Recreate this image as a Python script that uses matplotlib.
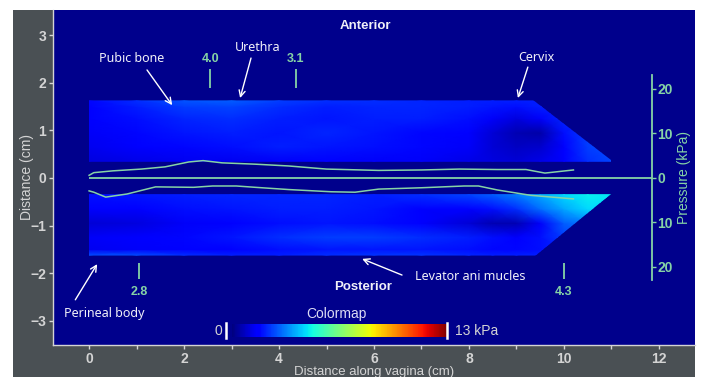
"""
plot.py
=======
Vaginal tactile imaging map: anterior / posterior pressure maps along the
vagina, pressure profiles along the midline and the colormap legend.
"""

import numpy as np
import matplotlib
matplotlib.use("Agg")
import matplotlib.pyplot as plt
from matplotlib.patches import Polygon, Rectangle
from matplotlib.colors import Normalize
from matplotlib.cm import ScalarMappable
from matplotlib.ticker import FuncFormatter, MultipleLocator

# ====== Data ======
# pressure map nodes (kPa); columns = distance along vagina (cm)
GRID_X = [0, 1, 2, 3, 4, 5, 6, 7, 8, 8.5, 9, 9.5, 10, 10.5, 11]

# anterior wall, rows from y=0.35 cm up to the wall edge
ANT_ROWS_Y = [0.35, 0.65, 0.95, 1.25, 1.50, 1.62]
ANT_MAP = [
    [1.1, 1.2, 1.3, 1.3, 1.4, 1.5, 1.4, 1.4, 1.2, 1.1, 1.0, 1.2, 1.6, 2.2, 2.5],
    [1.3, 1.5, 1.7, 1.8, 2.0, 1.9, 1.8, 1.7, 1.4, 1.0, 0.8, 0.9, 1.6, 2.4, 2.6],
    [1.4, 1.7, 1.9, 2.0, 1.9, 2.1, 1.9, 1.7, 1.5, 1.0, 0.6, 0.5, 1.8, 2.4, 2.4],
    [1.5, 1.8, 2.1, 2.2, 2.0, 1.9, 2.0, 2.0, 1.8, 1.4, 1.1, 1.4, 2.1, 2.2, 2.2],
    [1.6, 2.0, 2.4, 2.5, 2.2, 2.0, 2.1, 2.1, 2.0, 1.9, 1.8, 2.0, 2.0, 2.0, 2.0],
    [1.7, 2.2, 2.7, 2.8, 2.4, 2.2, 2.2, 2.1, 2.0, 2.0, 2.0, 2.0, 2.0, 2.0, 2.0],
]

# posterior wall, rows from the wall edge up to y=-0.35 cm
POST_ROWS_Y = [-1.62, -1.50, -1.25, -0.95, -0.65, -0.35]
POST_MAP = [
    [2.6, 2.6, 2.2, 2.0, 2.0, 2.2, 2.3, 2.3, 2.1, 2.0, 2.0, 2.0, 2.0, 2.0, 2.0],
    [1.3, 1.4, 1.5, 1.6, 1.8, 1.9, 1.9, 1.9, 1.8, 1.7, 1.7, 1.8, 2.0, 2.0, 2.0],
    [1.4, 1.5, 1.7, 1.9, 2.2, 2.4, 2.4, 2.2, 2.0, 1.8, 1.6, 1.8, 2.4, 2.8, 3.0],
    [1.0, 1.1, 1.4, 1.6, 1.8, 1.9, 1.8, 1.5, 1.0, 0.6, 0.6, 1.4, 2.8, 3.2, 3.4],
    [1.5, 1.6, 1.8, 1.9, 2.0, 2.0, 1.9, 1.5, 1.6, 1.8, 2.2, 3.0, 3.8, 4.4, 4.5],
    [1.8, 1.9, 2.0, 2.1, 2.1, 2.1, 2.0, 2.2, 2.5, 2.8, 3.2, 3.8, 4.4, 4.7, 4.6],
]

# outlines of the two maps (cm)
ANT_OUTLINE = [(0, 0.33), (0, 1.64), (9.35, 1.64), (11.0, 0.37), (11.0, 0.33)]
POST_OUTLINE = [(0, -0.34), (11.0, -0.34), (9.4, -1.65), (0, -1.65)]

# midline pressure profiles (kPa)
ANT_X = [0.0, 0.1, 0.5, 1.1, 1.6, 2.1, 2.4, 2.8, 3.5, 4.2, 5.0, 6.1, 7.0, 7.8, 8.6, 9.2, 9.6, 10.2]
ANT_P = [0.6, 1.2, 1.6, 2.0, 2.5, 3.6, 3.9, 3.4, 3.1, 2.7, 2.0, 1.7, 1.8, 2.0, 1.9, 1.9, 1.1, 1.8]
POST_X = [0.0, 0.1, 0.35, 0.8, 1.4, 2.2, 2.6, 3.1, 3.5, 4.2, 5.1, 5.6, 6.1, 7.0, 7.9, 8.2, 8.6, 9.3, 10.2]
POST_P = [2.9, 3.2, 4.3, 3.6, 2.0, 2.1, 1.8, 1.8, 2.1, 2.6, 3.1, 3.2, 2.5, 2.2, 1.8, 1.8, 2.7, 3.9, 4.7]

# peak pressure markers (kPa)
ANT_PEAK_X = [2.55, 4.35]
ANT_PEAK_LABELS = ["4.0", "3.1"]
POST_PEAK_X = [1.05, 10.0]
POST_PEAK_LABELS = ["2.8", "4.3"]

PRESSURE_TICKS = [-20, -10, 0, 10, 20]
CMAP_MAX = 13

# ====== Style ======
CM_PER_KPA = 0.0935          # vertical scale of the pressure profiles
RIGHT_AXIS_X = 11.85
NAVY = "#00008c"
GREY = "#4a5054"
GREEN = "#86d3a6"
LIGHT = "#d4d4d4"
TEXT = "#f0f0f8"
W, H = 703, 377

plt.rcParams["font.family"] = ["Liberation Sans", "DejaVu Sans"]


def draw_map(ax, rows_y, values, outline):
    X, Y = np.meshgrid(GRID_X, rows_y)
    mesh = ax.pcolormesh(X, Y, np.array(values), shading="gouraud",
                         cmap="jet", vmin=0, vmax=CMAP_MAX, zorder=1)
    clip = Polygon(outline, closed=True, transform=ax.transData)
    mesh.set_clip_path(clip)


def arrow_label(ax, text, text_xy, start, end):
    ax.text(*text_xy, text, ha="center", va="center", color=TEXT,
            fontsize=9, family="Noto Sans", zorder=5)
    ax.annotate("", xy=end, xytext=start, zorder=5,
                arrowprops=dict(arrowstyle="->", color="white", lw=1.0,
                                mutation_scale=11, shrinkA=0, shrinkB=0))


fig = plt.figure(figsize=(W / 100, H / 100), dpi=100)
fig.patch.set_facecolor("white")
fig.patches.append(Rectangle((13 / W, 0), (695 - 13) / W, (H - 10) / H,
                             transform=fig.transFigure, facecolor=GREY,
                             edgecolor="none", zorder=-5))

ax = fig.add_axes([53 / W, 32 / H, 642 / W, 335 / H])
ax.set_facecolor(NAVY)
ax.set_xlim(-0.76, 12.76)
ax.set_ylim(-3.51, 3.53)

draw_map(ax, ANT_ROWS_Y, ANT_MAP, ANT_OUTLINE)
draw_map(ax, POST_ROWS_Y, POST_MAP, POST_OUTLINE)

# pressure profiles
ax.hlines(0, GRID_X[0], RIGHT_AXIS_X, color=GREEN, lw=1.3, zorder=3)
ax.plot(ANT_X, np.array(ANT_P) * CM_PER_KPA, color=GREEN, lw=1.1, zorder=3)
ax.plot(POST_X, -np.array(POST_P) * CM_PER_KPA, color=GREEN, lw=1.1, zorder=3)

# peak markers
ax.vlines(ANT_PEAK_X, 1.89, 2.28, color=GREEN, lw=1.3, zorder=3)
for x, lab in zip(ANT_PEAK_X, ANT_PEAK_LABELS):
    ax.text(x, 2.5, lab, ha="center", va="center", color=GREEN,
            fontsize=9, fontweight="bold")
ax.vlines(POST_PEAK_X, -2.12, -1.79, color=GREEN, lw=1.3, zorder=3)
for x, lab in zip(POST_PEAK_X, POST_PEAK_LABELS):
    ax.text(x, -2.4, lab, ha="center", va="center", color=GREEN,
            fontsize=9, fontweight="bold")

# anatomy labels
ax.text(5.81, 3.19, "Anterior", ha="center", va="center", color=TEXT,
        fontsize=9.5, fontweight="bold")
ax.text(5.77, -2.29, "Posterior", ha="center", va="center", color=TEXT,
        fontsize=9.5, fontweight="bold")
arrow_label(ax, "Pubic bone", (0.9, 2.52), (1.22, 2.27), (1.75, 1.53))
arrow_label(ax, "Urethra", (3.56, 2.75), (3.41, 2.52), (3.18, 1.68))
arrow_label(ax, "Cervix", (9.41, 2.54), (9.24, 2.33), (9.03, 1.68))
arrow_label(ax, "Levator ani mucles", (8.02, -2.08), (6.59, -2.04), (5.75, -1.70))
arrow_label(ax, "Perineal body", (0.32, -2.84), (-0.29, -2.56), (0.17, -1.81))

# axes styling
for side in ("top", "right"):
    ax.spines[side].set_visible(False)
for side in ("left", "bottom"):
    ax.spines[side].set_color(LIGHT)
    ax.spines[side].set_linewidth(1.0)
ax.xaxis.set_major_locator(MultipleLocator(2))
ax.xaxis.set_minor_locator(MultipleLocator(1))
ax.set_yticks([-3, -2, -1, 0, 1, 2, 3])
ax.tick_params(which="both", colors=LIGHT, labelsize=10, length=3, width=1, pad=2)
for lab in ax.get_xticklabels() + ax.get_yticklabels():
    lab.set_fontweight("bold")
ax.set_xlabel("Distance along vagina (cm)", color=LIGHT, fontsize=9.5, labelpad=0)
ax.set_ylabel("Distance (cm)", color=LIGHT, fontsize=10, labelpad=-3)

# pressure axis inside the plot
sec = ax.secondary_yaxis((RIGHT_AXIS_X - ax.get_xlim()[0]) / np.ptp(ax.get_xlim()),
                         functions=(lambda y: y / CM_PER_KPA, lambda p: p * CM_PER_KPA))
sec.set_yticks(PRESSURE_TICKS)
sec.yaxis.set_major_formatter(FuncFormatter(lambda v, _: f"{abs(v):.0f}"))
sec.spines["right"].set_color(GREEN)
sec.spines["right"].set_linewidth(1.3)
sec.spines["right"].set_bounds(-22.9, 23.1)
sec.tick_params(colors=GREEN, labelsize=10, length=3, width=1, pad=1)
for lab in sec.get_yticklabels():
    lab.set_fontweight("bold")
sec.set_ylabel("Pressure (kPa)", color=GREEN, fontsize=10, labelpad=3)

# colormap legend
cax = fig.add_axes([232 / W, (H - 337) / H, 215 / W, 13 / H])
cb = fig.colorbar(ScalarMappable(norm=Normalize(0, CMAP_MAX), cmap="jet"),
                  cax=cax, orientation="horizontal")
cb.outline.set_visible(False)
cb.set_ticks([])
for xa in (-0.028, 1.0):
    cax.plot([xa, xa], [-0.1, 1.1], color="white", lw=1.8,
             transform=cax.transAxes, clip_on=False)
fig.text(218 / W, 1 - 331 / H, "0", ha="center", va="center", color=LIGHT, fontsize=10)
fig.text(455 / W, 1 - 331 / H, f"{CMAP_MAX} kPa", ha="left", va="center",
         color=LIGHT, fontsize=10)
fig.text(336 / W, 1 - 314 / H, "Colormap", ha="center", va="center",
         color="#dcdcf4", fontsize=10)

fig.savefig("out.png", dpi=100, facecolor=fig.get_facecolor())
